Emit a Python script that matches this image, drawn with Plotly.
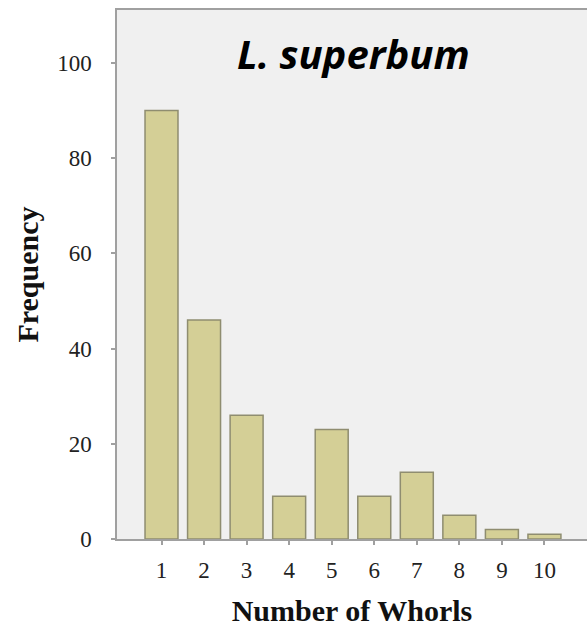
import plotly.graph_objects as go

whorls = [1, 2, 3, 4, 5, 6, 7, 8, 9, 10]
frequency = [90, 46, 26, 9, 23, 9, 14, 5, 2, 1]
y_ticks = [0, 20, 40, 60, 80, 100]
title_text = "L. superbum"

fig = go.Figure()
fig.add_trace(go.Bar(
    x=whorls, y=frequency, width=0.775,
    marker=dict(color="#d4cf96", line=dict(color="#8f8d70", width=1.5)),
))

serif = "Liberation Serif, Times New Roman, serif"
fig.update_layout(
    width=587, height=628,
    margin=dict(l=117, r=0, t=10, b=89),
    paper_bgcolor="white", plot_bgcolor="#f0f0f0",
    showlegend=False,
    font=dict(family=serif, color="#222222"),
    xaxis=dict(
        range=[-0.046, 11.0], tickvals=whorls, ticktext=[str(w) for w in whorls],
        showline=True, linecolor="#a0a0a0", linewidth=1.5, mirror=True,
        ticks="outside", ticklen=4, tickcolor="#a0a0a0", tickwidth=1.5,
        showgrid=False, zeroline=False,
        tickfont=dict(size=23, family=serif, color="#222222"),
        ticklabelstandoff=6,
        title=dict(text="<b>Number of Whorls</b>", font=dict(size=30, family=serif, color="#111111"), standoff=18),
    ),
    yaxis=dict(
        range=[0, 111.1], tickvals=y_ticks,
        showline=True, linecolor="#a0a0a0", linewidth=1.5,
        ticks="outside", ticklen=4, tickcolor="#a0a0a0", tickwidth=1.5,
        showgrid=False, zeroline=False,
        tickfont=dict(size=23, family=serif, color="#222222"),
        ticklabelstandoff=15,
        title=dict(text="<b>Frequency</b>", font=dict(size=30, family=serif, color="#111111"), standoff=10),
    ),
    annotations=[dict(
        text="<b><i>" + title_text + "</i></b>", xref="paper", yref="paper",
        x=(353 - 117) / 470, y=1 - (53 - 10) / 529, xanchor="center", yanchor="middle",
        showarrow=False, font=dict(family="Open Sans, sans-serif", size=40, color="#000000"),
    )],
)

fig.write_html("out.html", config={"displayModeBar": False},
               post_script="document.body.style.margin='0';document.body.style.overflow='hidden';")
